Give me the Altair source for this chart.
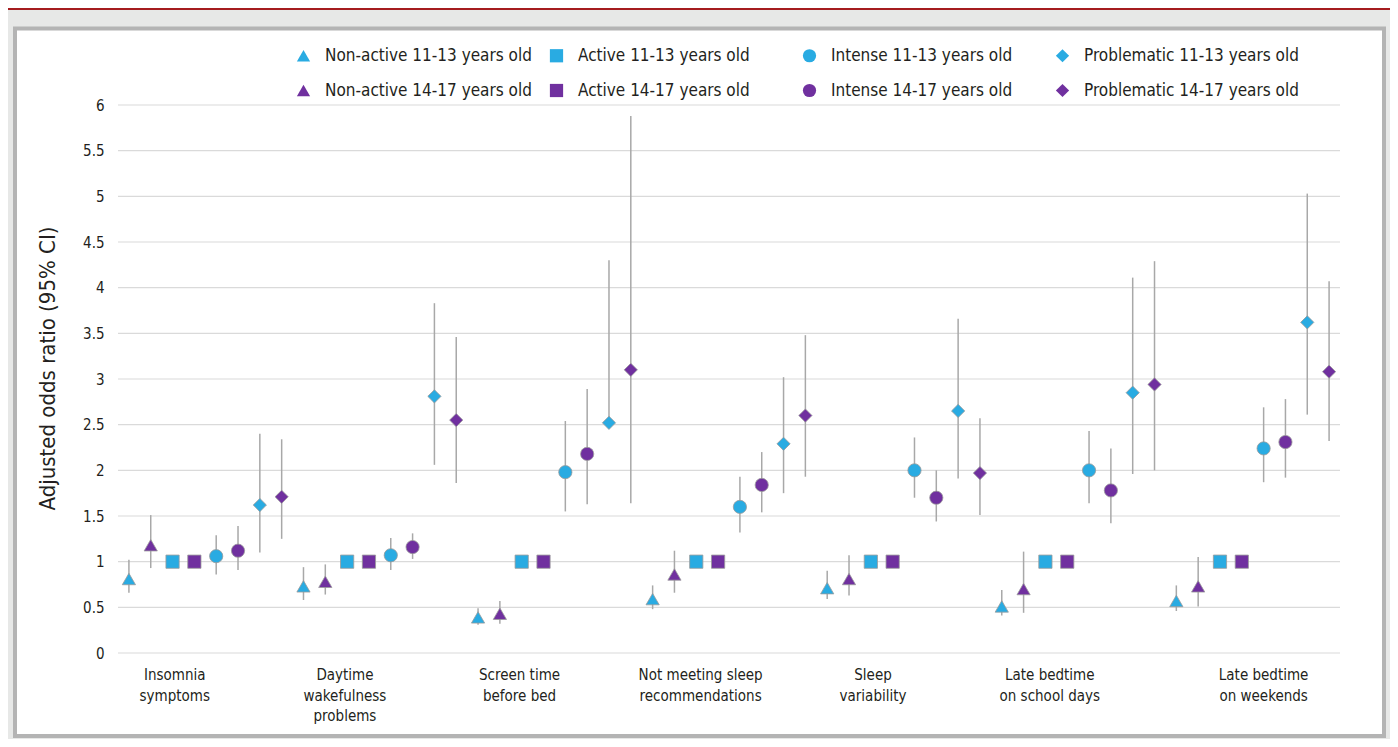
import altair as alt
import pandas as pd

# ---------------- data ----------------
outcomes = [
    "Insomnia\nsymptoms",
    "Daytime\nwakefulness\nproblems",
    "Screen time\nbefore bed",
    "Not meeting sleep\nrecommendations",
    "Sleep\nvariability",
    "Late bedtime\non school days",
    "Late bedtime\non weekends",
]
# where each outcome label sits, in marker slots from the start of its group
label_slots = [2.6, 2.4, 2.4, 2.7, 2.6, 2.7, 4.5]

# order of the markers inside one outcome group (also the legend order, column by column)
group_order = [
    "Non-active 11-13 years old", "Non-active 14-17 years old",
    "Active 11-13 years old", "Active 14-17 years old",
    "Intense 11-13 years old", "Intense 14-17 years old",
    "Problematic 11-13 years old", "Problematic 14-17 years old",
]
series_colors = ["#29abe2", "#70309f", "#29abe2", "#70309f",
                 "#29abe2", "#70309f", "#29abe2", "#70309f"]
series_shapes = ["triangle-up", "triangle-up", "square", "square",
                 "circle", "circle", "diamond", "diamond"]
series_sizes = [175, 175, 110, 110, 145, 145, 115, 115]

# adjusted odds ratios, one value per outcome
aor = {
    "Non-active 11-13 years old":  [0.81, 0.73, 0.39, 0.59, 0.71, 0.51, 0.57],
    "Non-active 14-17 years old":  [1.18, 0.78, 0.43, 0.86, 0.81, 0.70, 0.73],
    "Active 11-13 years old":      [1.00, 1.00, 1.00, 1.00, 1.00, 1.00, 1.00],
    "Active 14-17 years old":      [1.00, 1.00, 1.00, 1.00, 1.00, 1.00, 1.00],
    "Intense 11-13 years old":     [1.06, 1.07, 1.98, 1.60, 2.00, 2.00, 2.24],
    "Intense 14-17 years old":     [1.12, 1.16, 2.18, 1.84, 1.70, 1.78, 2.31],
    "Problematic 11-13 years old": [1.62, 2.81, 2.52, 2.29, 2.65, 2.85, 3.62],
    "Problematic 14-17 years old": [1.71, 2.55, 3.10, 2.60, 1.97, 2.94, 3.08],
}
ci_low = {
    "Non-active 11-13 years old":  [0.66, 0.58, 0.31, 0.48, 0.59, 0.41, 0.46],
    "Non-active 14-17 years old":  [0.93, 0.64, 0.32, 0.66, 0.63, 0.44, 0.51],
    "Active 11-13 years old":      [1.00, 1.00, 1.00, 1.00, 1.00, 1.00, 1.00],
    "Active 14-17 years old":      [1.00, 1.00, 1.00, 1.00, 1.00, 1.00, 1.00],
    "Intense 11-13 years old":     [0.86, 0.91, 1.55, 1.32, 1.70, 1.64, 1.87],
    "Intense 14-17 years old":     [0.91, 1.03, 1.63, 1.54, 1.44, 1.42, 1.92],
    "Problematic 11-13 years old": [1.10, 2.06, 2.52, 1.75, 1.91, 1.96, 2.61],
    "Problematic 14-17 years old": [1.25, 1.86, 1.64, 1.93, 1.51, 2.00, 2.32],
}
ci_high = {
    "Non-active 11-13 years old":  [1.02, 0.94, 0.49, 0.74, 0.90, 0.69, 0.74],
    "Non-active 14-17 years old":  [1.51, 0.97, 0.57, 1.12, 1.07, 1.11, 1.05],
    "Active 11-13 years old":      [1.00, 1.00, 1.00, 1.00, 1.00, 1.00, 1.00],
    "Active 14-17 years old":      [1.00, 1.00, 1.00, 1.00, 1.00, 1.00, 1.00],
    "Intense 11-13 years old":     [1.29, 1.26, 2.54, 1.93, 2.36, 2.43, 2.69],
    "Intense 14-17 years old":     [1.39, 1.31, 2.89, 2.20, 2.00, 2.24, 2.78],
    "Problematic 11-13 years old": [2.40, 3.83, 4.30, 3.02, 3.66, 4.11, 5.03],
    "Problematic 14-17 years old": [2.34, 3.46, 5.88, 3.48, 2.57, 4.29, 4.07],
}
y_ticks = [0, 0.5, 1, 1.5, 2, 2.5, 3, 3.5, 4, 4.5, 5, 5.5, 6]

# ---------------- tables ----------------
n_slots = len(group_order)
rows = []
for gi, outcome in enumerate(outcomes):
    for si, s in enumerate(group_order):
        rows.append({
            "outcome": outcome,
            "series": s,
            "pos": gi * n_slots + si + 0.5,
            "aor": aor[s][gi],
            "lo": ci_low[s][gi],
            "hi": ci_high[s][gi],
        })
df = pd.DataFrame(rows)
ci_df = df[df["hi"] > df["lo"]]
lab_df = pd.DataFrame({
    "label": outcomes,
    "pos": [gi * n_slots + off for gi, off in enumerate(label_slots)],
})
grid_df = pd.DataFrame({"tick": y_ticks})

W, H = 1222, 548
FONT = "DejaVu Sans Condensed, Roboto, sans-serif"
INK = "#231f20"

xscale = alt.Scale(domain=[0, len(outcomes) * n_slots], nice=False, zero=False)
yscale = alt.Scale(domain=[0, 6], nice=False)
yaxis = alt.Axis(
    values=y_ticks, format="~g", title="Adjusted odds ratio (95% CI)",
    domain=False, ticks=False, grid=False, zindex=1,
    labelFont=FONT, labelFontSize=15, labelColor=INK, labelPadding=14,
    titleFont=FONT, titleFontSize=22, titleFontWeight="normal", titleColor=INK,
    titleAngle=-90, titleX=-71, titleY=263, titleAlign="center",
    titleBaseline="middle",
)

one = pd.DataFrame({"k": [0]})
panel = alt.Chart(one).mark_rect(fill="white", stroke="#b4b4b4", strokeWidth=4).encode(
    x=alt.value(-103), x2=alt.value(W + 44), y=alt.value(-76.5), y2=alt.value(H + 83)
)
redline = alt.Chart(one).mark_rule(color="#a51c1f", strokeWidth=3).encode(
    x=alt.value(-110), x2=alt.value(W + 60), y=alt.value(-96.5)
)

grid = alt.Chart(grid_df).mark_rule(color="#dadada", strokeWidth=1.2).encode(
    y=alt.Y("tick:Q", scale=yscale, axis=yaxis),
    x=alt.value(0), x2=alt.value(W),
)

ci = alt.Chart(ci_df).mark_rule(color="#a8a8a8", strokeWidth=1.5).encode(
    x=alt.X("pos:Q", scale=xscale, axis=None),
    y=alt.Y("lo:Q", scale=yscale, axis=yaxis),
    y2="hi:Q",
)

points = alt.Chart(df).mark_point(
    filled=True, opacity=1, stroke="#9a9a9a", strokeWidth=0.8
).encode(
    x=alt.X("pos:Q", scale=xscale, axis=None),
    y=alt.Y("aor:Q", scale=yscale, axis=yaxis),
    color=alt.Color(
        "series:N",
        scale=alt.Scale(domain=group_order, range=series_colors),
        legend=alt.Legend(
            title=None, orient="none", legendX=177, legendY=-58, columns=4,
            gridAlign="all", columnPadding=8, rowPadding=17, padding=0,
            labelFont=FONT, labelFontSize=17, labelColor=INK, labelOffset=13,
            symbolStrokeWidth=0, labelLimit=400, zindex=1,
        ),
    ),
    shape=alt.Shape("series:N", scale=alt.Scale(domain=group_order, range=series_shapes)),
    size=alt.Size("series:N", scale=alt.Scale(domain=group_order, range=series_sizes)),
)

cat_labels = alt.Chart(lab_df).mark_text(
    font=FONT, fontSize=15, color=INK, lineBreak="\n", lineHeight=20.5,
    baseline="middle", align="center",
).encode(
    x=alt.X("pos:Q", scale=xscale, axis=None),
    y=alt.value(H + 22),
    text="label:N",
)

chart = alt.layer(panel, redline, grid, ci, points, cat_labels).properties(
    width=W, height=H,
    autosize=alt.AutoSizeParams(type="none"),
    padding={"left": 110, "top": 97, "right": 50, "bottom": 86},
    background="#e7e8e7",
).configure_view(stroke=None)

chart.save("out.html", embed_options={"renderer": "svg", "actions": False})
